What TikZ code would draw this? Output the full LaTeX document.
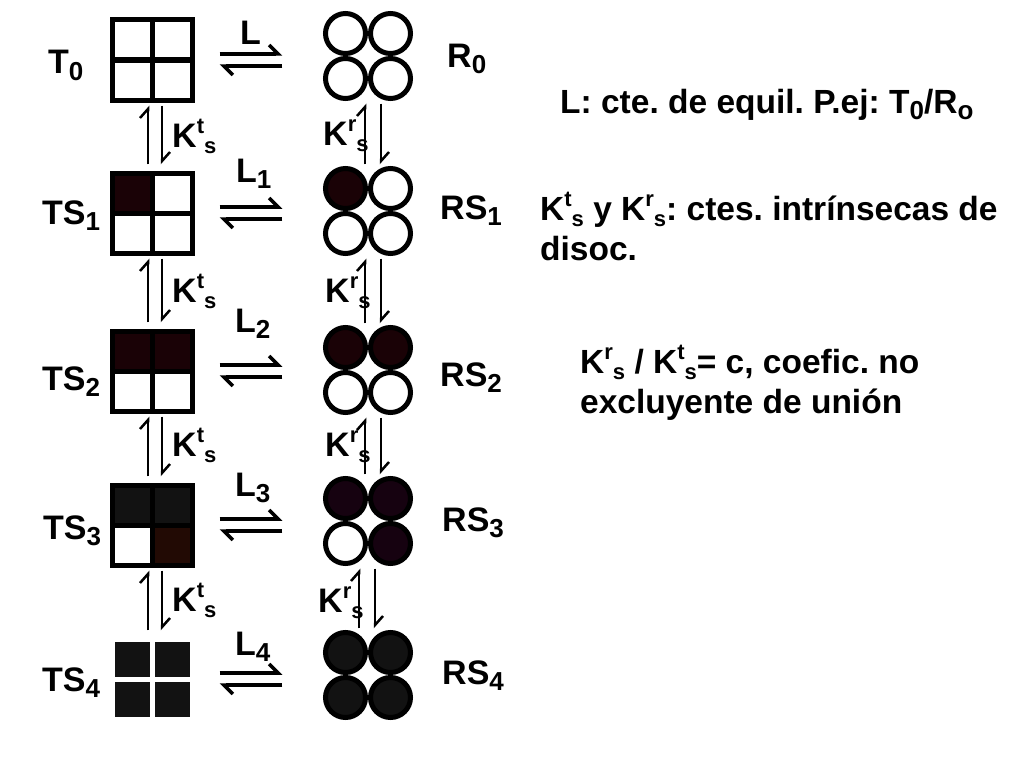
\documentclass[tikz,border=0pt]{standalone}
\usepackage{fontspec}
\setmainfont{Liberation Sans}
\usepackage{tikz}
\usetikzlibrary{positioning, calc, arrows.meta}
\definecolor{bindRed}{RGB}{26,2,6}
\definecolor{bindGray}{RGB}{18,18,18}
\definecolor{bindBrown}{RGB}{34,10,4}
\definecolor{bindPurple}{RGB}{22,2,16}
\newcommand{\low}[1]{\raisebox{-0.2em}{\fontsize{26}{26}\selectfont #1}}
\newcommand{\Kcte}[1]{K\raisebox{0.4em}{\fontsize{22}{22}\selectfont #1}\raisebox{-0.2em}{\fontsize{22}{22}\selectfont s}}
\frenchspacing
\tikzset{
    cell/.style={
        rectangle,
        draw,
        line width=5pt,
        minimum size=40pt,
        inner sep=0pt
    },
    gapcell/.style={
        cell,
        draw=white
    },
    disc/.style={
        circle,
        draw,
        line width=5pt,
        minimum size=40pt,
        inner sep=0pt
    },
    state/.style={
        minimum size=85pt,
        inner sep=0pt
    },
    lbl/.style={
        font=\fontsize{34}{40}\selectfont\bfseries,
        inner sep=0pt,
        anchor=base west
    },
    note/.style={
        lbl,
        font=\fontsize{33.5}{40}\selectfont\bfseries,
        align=left
    },
    hharp/.style={
        -{Straight Barb[harpoon, length=9pt, width=18pt]},
        line width=3.5pt
    },
    vharp/.style={
        -{Straight Barb[harpoon, length=9pt, width=16pt]},
        line width=2.5pt
    }
}

\begin{document}
\begin{tikzpicture}[x=1pt, y=-1pt]
    \useasboundingbox (0,0) rectangle (1024,768);

    % T states (squares) and R states (circles)
    \foreach \n/\x/\y/\o/\s/\a/\b/\c/\d in {
        T0/152/60/20/cell/white/white/white/white,
        TS1/152/213/20/cell/bindRed/white/white/white,
        TS2/152/371/20/cell/bindRed/bindRed/white/white,
        TS3/152/525/20/cell/bindGray/bindGray/white/bindBrown,
        TS4/152/679/20/gapcell/bindGray/bindGray/bindGray/bindGray,
        R0/368/56/22.5/disc/white/white/white/white,
        RS1/368/211/22.5/disc/bindRed/white/white/white,
        RS2/368/370/22.5/disc/bindRed/bindRed/white/white,
        RS3/368/521/22.5/disc/bindPurple/bindPurple/white/bindPurple,
        RS4/368/675/22.5/disc/bindGray/bindGray/bindGray/bindGray}{
        \node[state] (\n) at (\x,\y) {};
        \node[\s, fill=\a] at ($(\n)+(-\o,-\o)$) {};
        \node[\s, fill=\b] at ($(\n)+(\o,-\o)$) {};
        \node[\s, fill=\c] at ($(\n)+(-\o,\o)$) {};
        \node[\s, fill=\d] at ($(\n)+(\o,\o)$) {};
    }

    \node[lbl] (lT0) at (48,74) {T\low{0}};
    \node[lbl] (lTS1) at (42,224) {TS\low{1}};
    \node[lbl] (lTS2) at (42,390) {TS\low{2}};
    \node[lbl] (lTS3) at (43,539) {TS\low{3}};
    \node[lbl] (lTS4) at (42,691) {TS\low{4}};
    \node[lbl] (lR0) at (447,67) {R\low{0}};
    \node[lbl] (lRS1) at (440,219) {RS\low{1}};
    \node[lbl] (lRS2) at (440,386) {RS\low{2}};
    \node[lbl] (lRS3) at (442,531) {RS\low{3}};
    \node[lbl] (lRS4) at (442,684) {RS\low{4}};

    \node[lbl] (L0) at (240,45) {L};
    \node[lbl] (L1) at (236,182) {L\low{1}};
    \node[lbl] (L2) at (235,332) {L\low{2}};
    \node[lbl] (L3) at (235,496) {L\low{3}};
    \node[lbl] (L4) at (235,655) {L\low{4}};

    \node[lbl] (kT1) at (172,147) {\Kcte{t}};
    \node[lbl] (kT2) at (172,302) {\Kcte{t}};
    \node[lbl] (kT3) at (172,456) {\Kcte{t}};
    \node[lbl] (kT4) at (172,611) {\Kcte{t}};
    \node[lbl] (kR1) at (323,145) {\Kcte{r}};
    \node[lbl] (kR2) at (325,302) {\Kcte{r}};
    \node[lbl] (kR3) at (325,456) {\Kcte{r}};
    \node[lbl] (kR4) at (318,612) {\Kcte{r}};

    % horizontal equilibria
    \foreach \u/\v in {T0/R0, TS1/RS1, TS2/RS2, TS3/RS3, TS4/RS4}{
        \draw[hharp] ($(\u.east)+(25,-6)$) -- ($(\v.west |- \u.east)+(-43,-6)$);
        \draw[hharp] ($(\v.west |- \u.east)+(-43,6)$) -- ($(\u.east)+(25,6)$);
    }

    % vertical equilibria
    \foreach \u/\v in {T0/TS1, TS1/TS2, TS2/TS3, TS3/TS4}{
        \draw[vharp] ($(\v.north)+(-4,-6)$) -- ($(\u.south)+(-4,3)$);
        \draw[vharp] ($(\u.south)+(10,3)$) -- ($(\v.north)+(10,-6)$);
    }
    \foreach \u/\v/\dx in {R0/RS1/0, RS1/RS2/0, RS2/RS3/0, RS3/RS4/-6}{
        \draw[vharp] ($(\v.north)+(-3+\dx,-4)$) -- ($(\u.south)+(-3+\dx,5)$);
        \draw[vharp] ($(\u.south)+(13+\dx,5)$) -- ($(\v.north)+(13+\dx,-4)$);
    }

    \node[note] (n1) at (560,113) {L: cte. de equil. P.ej: T\low{0}/R\low{o}};
    \node[note] (n2) at (540,260) {\Kcte{t} y \Kcte{r}: ctes. intrínsecas de\\disoc.};
    \node[note] (n3) at (580,413) {\Kcte{r} / \Kcte{t}= c, coefic. no\\excluyente de unión};
\end{tikzpicture}
\end{document}
